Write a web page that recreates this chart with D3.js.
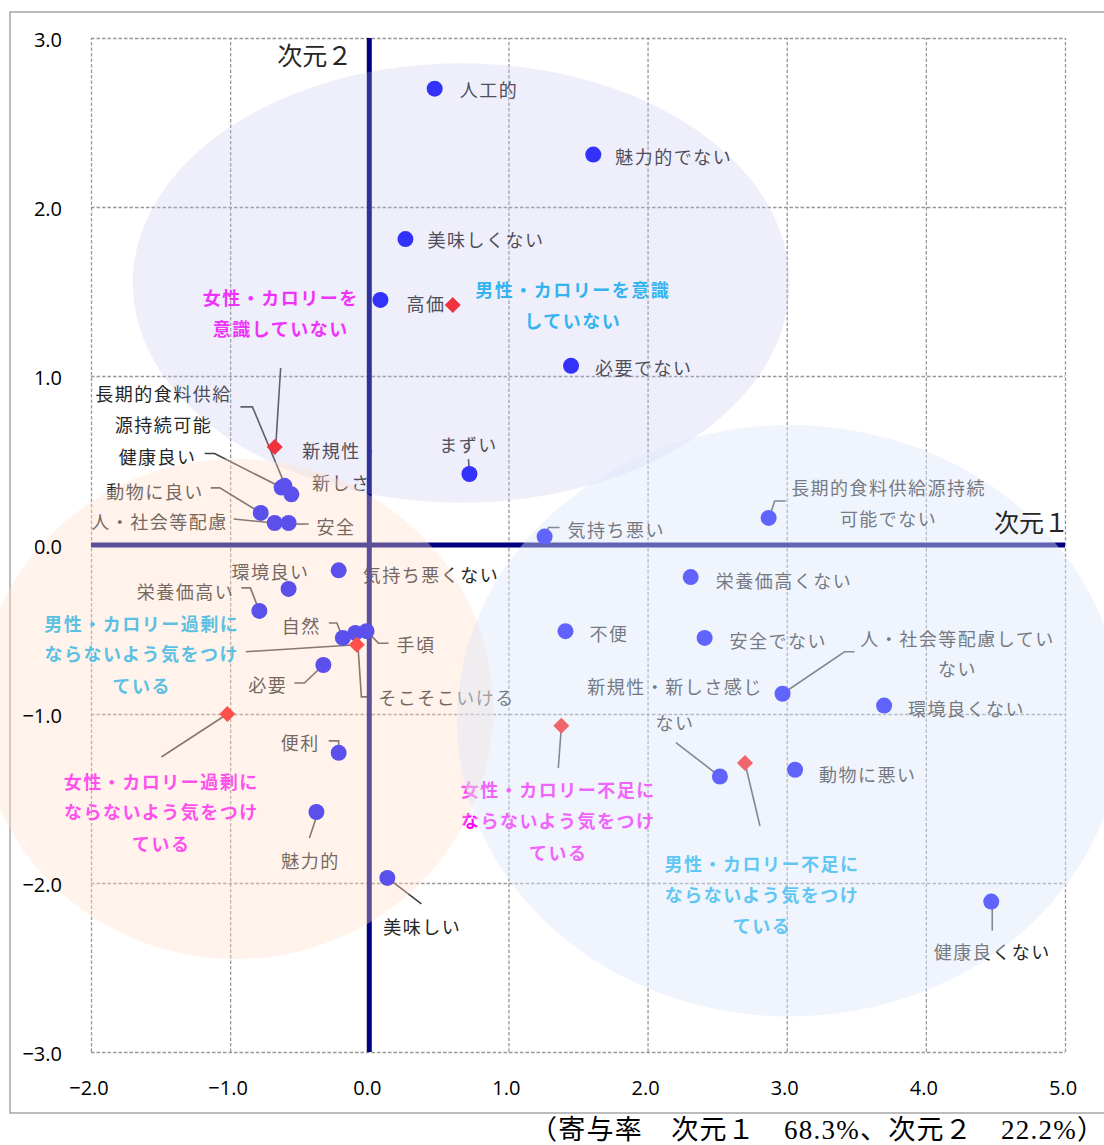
<!DOCTYPE html>
<html><head><meta charset="utf-8">
<script src="https://cdn.jsdelivr.net/npm/d3@7"></script>
<style>
html,body{margin:0;padding:0;background:#fff;}
svg{display:block;}
</style></head>
<body>
<svg id="chart" width="1104" height="1145"></svg>
<script>
// ---------- data ----------
const xTickValues = [-2, -1, 0, 1, 2, 3, 4, 5];
const yTickValues = [-3, -2, -1, 0, 1, 2, 3];

const attrNames = ["人工的","魅力的でない","美味しくない","高価","必要でない","まずい",
  "健康良い","長期的食料供給源持続可能","新規性・新しさ","動物に良い","人・社会等配慮","安全",
  "環境良い","気持ち悪くない","栄養価高い","自然","そこそこいける","手頃","必要","便利","魅力的","美味しい",
  "気持ち悪い","長期的食料供給源持続可能でない","栄養価高くない","不便","安全でない",
  "人・社会等配慮していない","環境良くない","新規性・新しさ感じない","動物に悪い","健康良くない"];
const attrX = [0.47,1.61,0.26,0.08,1.45,0.72,
  -0.63,-0.61,-0.56,-0.78,-0.68,-0.58,
  -0.58,-0.22,-0.79,-0.19,-0.10,-0.02,-0.33,-0.22,-0.38,0.13,
  1.26,2.87,2.31,1.41,2.41,
  2.97,3.70,2.52,3.06,4.47];
const attrY = [2.70,2.31,1.81,1.45,1.06,0.42,
  0.34,0.35,0.30,0.19,0.13,0.13,
  -0.26,-0.15,-0.39,-0.55,-0.52,-0.51,-0.71,-1.23,-1.58,-1.97,
  0.05,0.16,-0.19,-0.51,-0.55,
  -0.88,-0.95,-1.37,-1.33,-2.11];

const groupNames = ["女性・カロリーを意識していない","男性・カロリーを意識していない",
  "男性・カロリー過剰にならないよう気をつけている","女性・カロリー過剰にならないよう気をつけている",
  "女性・カロリー不足にならないよう気をつけている","男性・カロリー不足にならないよう気をつけている"];
const groupX = [-0.68, 0.60, -0.09, -1.02, 1.38, 2.70];
const groupY = [0.58, 1.42, -0.59, -1.00, -1.07, -1.29];

// grouping ellipses (data units)
const ellipseCx = [0.66, -0.96, 3.02];
const ellipseCy = [1.55, -0.97, -1.04];
const ellipseRx = [2.36, 1.85, 2.39];
const ellipseRy = [1.30, 1.48, 1.75];

const axisTitles = ["次元２", "次元１"];
const caption = "（寄与率　次元１　68.3%、次元２　22.2%）";

// ---------- label layout (pixel offsets from each point) ----------
const attrLayout = {
  "人工的":{a:"start",dx:25,dy:[0]},
  "魅力的でない":{a:"start",dx:22,dy:[1]},
  "美味しくない":{a:"start",dx:22,dy:[0]},
  "高価":{a:"start",dx:26,dy:[3]},
  "必要でない":{a:"start",dx:24,dy:[1]},
  "まずい":{a:"middle",dx:-1,dy:[-30],leader:[[-1,-15],[0,0]]},
  "長期的食料供給源持続可能":{a:"middle",dx:-121,dy:[-93,-62],lines:["長期的食料供給","源持続可能"],leader:[[-44,-79],[-32,-79],[1,0]]},
  "健康良い":{a:"end",dx:-85,dy:[-32],leader:[[-77,-34],[-67,-34],[0,0]]},
  "新規性・新しさ":{a:"middle",dx:50,dy:[-44,-12],lines:["新規性・","新しさ"]},
  "動物に良い":{a:"end",dx:-57,dy:[-22],leader:[[-50,-25],[-41,-25],[0,0]]},
  "人・社会等配慮":{a:"end",dx:-47,dy:[-2],leader:[[-41,-4],[0,0]]},
  "安全":{a:"start",dx:28,dy:[3],leader:[[20,1],[0,1]]},
  "環境良い":{a:"middle",dx:-18,dy:[-18]},
  "気持ち悪くない":{a:"start",dx:24,dy:[4]},
  "栄養価高い":{a:"end",dx:-25,dy:[-20],leader:[[-18,-23],[-9,-23],[0,0]]},
  "自然":{a:"end",dx:-22,dy:[-13],leader:[[-14,-15],[-6,-15],[0,0]]},
  "手頃":{a:"start",dx:30,dy:[13],leader:[[22,12],[12,12],[0,0]]},
  "そこそこいける":{a:"start",dx:23,dy:[64],leader:[[16,64],[6,64],[2,4]]},
  "必要":{a:"end",dx:-36,dy:[19],leader:[[-29,18],[-19,18],[0,0]]},
  "便利":{a:"end",dx:-19,dy:[-11],leader:[[-10,-12],[0,-12],[0,0]]},
  "魅力的":{a:"middle",dx:-6,dy:[48],leader:[[0,5],[-7,26]]},
  "美味しい":{a:"middle",dx:35,dy:[48],leader:[[0,0],[34,26]]},
  "気持ち悪い":{a:"start",dx:23,dy:[-8],leader:[[0,0],[4,-9],[15,-9]]},
  "長期的食料供給源持続可能でない":{a:"middle",dx:120,dy:[-31,0],lines:["長期的食料供給源持続","可能でない"],leader:[[1,-1],[6,-17],[17,-17]]},
  "栄養価高くない":{a:"start",dx:25,dy:[3]},
  "不便":{a:"start",dx:24,dy:[2]},
  "安全でない":{a:"start",dx:25,dy:[2]},
  "人・社会等配慮していない":{a:"middle",dx:175,dy:[-56,-26],lines:["人・社会等配慮してい","ない"],leader:[[72,-42],[62,-42],[0,0]]},
  "環境良くない":{a:"start",dx:24,dy:[2]},
  "新規性・新しさ感じない":{a:"middle",dx:-45,dy:[-91,-55],lines:["新規性・新しさ感じ","ない"],leader:[[-44,-34],[0,0]]},
  "動物に悪い":{a:"start",dx:24,dy:[4]},
  "健康良くない":{a:"middle",dx:1,dy:[49],leader:[[1,0],[1,29]]}
};
const groupLayout = {
  "女性・カロリーを意識していない":{dx:6,dy:[-150,-119],lines:["女性・カロリーを","意識していない"],leader:[[6,-79],[1,0]]},
  "男性・カロリーを意識していない":{dx:120,dy:[-16,15],lines:["男性・カロリーを意識","していない"]},
  "男性・カロリー過剰にならないよう気をつけている":{dx:-215,dy:[-22,8,40],lines:["男性・カロリー過剰に","ならないよう気をつけ","ている"],leader:[[-111,7],[0,0]]},
  "女性・カロリー過剰にならないよう気をつけている":{dx:-66,dy:[67,97,129],lines:["女性・カロリー過剰に","ならないよう気をつけ","ている"],leader:[[0,0],[-66,43]]},
  "女性・カロリー不足にならないよう気をつけている":{dx:-3,dy:[63,94,126],lines:["女性・カロリー不足に","ならないよう気をつけ","ている"],leader:[[0,2],[-3,42]]},
  "男性・カロリー不足にならないよう気をつけている":{dx:17,dy:[100,131,162],lines:["男性・カロリー不足に","ならないよう気をつけ","ている"],leader:[[0,0],[15,63]]}
};

// ---------- drawing ----------
const svg = d3.select("#chart");
const x = d3.scaleLinear().domain([-2, 5]).range([91, 1065]);
const y = d3.scaleLinear().domain([-3, 3]).range([1052, 38]);
const JP = "'Noto Sans CJK JP','Noto Sans',sans-serif";

// outer frame
svg.append("rect").attr("x", 10).attr("y", 12).attr("width", 1110).attr("height", 1101)
  .attr("fill", "none").attr("stroke", "#a6a6a6").attr("stroke-width", 1.5);

// gridlines (dashed) via axes
const grid = svg.append("g");
grid.append("g").attr("transform", `translate(0,${y(-3)})`)
  .call(d3.axisBottom(x).tickValues(xTickValues).tickSize(-(y(-3) - y(3))).tickFormat(""))
  .call(g => g.select(".domain").remove());
grid.append("g").attr("transform", `translate(${x(-2)},0)`)
  .call(d3.axisLeft(y).tickValues(yTickValues).tickSize(-(x(5) - x(-2))).tickFormat(""))
  .call(g => g.select(".domain").remove());
grid.selectAll("line").attr("stroke", "#999999").attr("stroke-width", 1.3).attr("stroke-dasharray", "3.5,2");

const line = d3.line();
const leaderG = svg.append("g").attr("fill", "none").attr("stroke", "#404040").attr("stroke-width", 1.6);
const textG = svg.append("g").attr("font-family", JP).attr("font-size", 18).attr("letter-spacing", "1.5px");

// attribute labels
attrNames.forEach((n, i) => {
  const L = attrLayout[n];
  const px = x(attrX[i]), py = y(attrY[i]);
  const lines = L.lines || [n];
  lines.forEach((t, k) => {
    textG.append("text").attr("x", px + L.dx).attr("y", py + L.dy[k])
      .attr("text-anchor", L.a).attr("dominant-baseline", "central")
      .attr("fill", "#262626").text(t);
  });
  if (L.leader) leaderG.append("path").attr("d", line(L.leader.map(p => [px + p[0], py + p[1]])));
});
// group labels
groupNames.forEach((n, i) => {
  const L = groupLayout[n];
  const px = x(groupX[i]), py = y(groupY[i]);
  const col = n.startsWith("男性") ? "#00b0f0" : "#ff00ff";
  L.lines.forEach((t, k) => {
    textG.append("text").attr("x", px + L.dx).attr("y", py + L.dy[k])
      .attr("text-anchor", "middle").attr("dominant-baseline", "central")
      .attr("font-weight", "bold").attr("fill", col).text(t);
  });
  if (L.leader) leaderG.append("path").attr("d", line(L.leader.map(p => [px + p[0], py + p[1]])));
});

// dimension axes
svg.append("line").attr("x1", x(-2)).attr("x2", x(5)).attr("y1", y(0)).attr("y2", y(0))
  .attr("stroke", "#000080").attr("stroke-width", 5);
svg.append("line").attr("x1", x(0)).attr("x2", x(0)).attr("y1", y(3)).attr("y2", y(-3))
  .attr("stroke", "#000080").attr("stroke-width", 5);

// points
svg.append("g").selectAll("circle").data(attrNames).join("circle")
  .attr("cx", (d, i) => x(attrX[i])).attr("cy", (d, i) => y(attrY[i]))
  .attr("r", 8).attr("fill", "#0000ff");
svg.append("g").selectAll("path").data(groupNames).join("path")
  .attr("d", (d, i) => {
    const cx = x(groupX[i]), cy = y(groupY[i]), h = 8;
    return `M${cx},${cy - h}L${cx + h},${cy}L${cx},${cy + h}L${cx - h},${cy}Z`;
  })
  .attr("fill", "#ff0000");

// translucent ellipses on top
const ellFill = ["rgb(194,194,240)", "rgb(255,222,203)", "rgb(220,230,248)"];
const ellAlpha = [0.26, 0.36, 0.435];
svg.append("g").selectAll("ellipse").data(ellipseCx).join("ellipse")
  .attr("cx", (d, i) => x(ellipseCx[i])).attr("cy", (d, i) => y(ellipseCy[i]))
  .attr("rx", (d, i) => x(ellipseCx[i] + ellipseRx[i]) - x(ellipseCx[i]))
  .attr("ry", (d, i) => y(ellipseCy[i]) - y(ellipseCy[i] + ellipseRy[i]))
  .attr("fill", (d, i) => ellFill[i]).attr("fill-opacity", (d, i) => ellAlpha[i]);

// tick labels
const fmt = d3.format(".1f");
const tickG = svg.append("g").attr("font-family", "'Open Sans','Liberation Sans',sans-serif").attr("font-size", 20).attr("fill", "#000");
tickG.selectAll(".yt").data(yTickValues).join("text").attr("class", "yt")
  .attr("x", 62).attr("y", d => y(d) + 1).attr("text-anchor", "end").attr("dominant-baseline", "central")
  .text(d => fmt(d));
tickG.selectAll(".xt").data(xTickValues).join("text").attr("class", "xt")
  .attr("x", d => x(d) - 2).attr("y", 1087).attr("text-anchor", "middle").attr("dominant-baseline", "central")
  .text(d => fmt(d));

// axis titles
svg.append("text").attr("x", x(0) - 17).attr("y", 54).attr("text-anchor", "end").attr("dominant-baseline", "central")
  .attr("font-family", JP).attr("font-size", 25).attr("fill", "#262626").text(axisTitles[0]);
svg.append("text").attr("x", x(5) + 4).attr("y", 521).attr("text-anchor", "end").attr("dominant-baseline", "central")
  .attr("font-family", JP).attr("font-size", 25).attr("fill", "#262626").text(axisTitles[1]);

// caption
svg.append("text").attr("x", 530).attr("y", 1139)
  .attr("font-family", "'Liberation Serif','DejaVu Serif','Noto Sans CJK JP',serif").attr("font-size", 27)
  .attr("fill", "#000").attr("textLength", 574).attr("lengthAdjust", "spacing").text(caption);
</script>
</body></html>
